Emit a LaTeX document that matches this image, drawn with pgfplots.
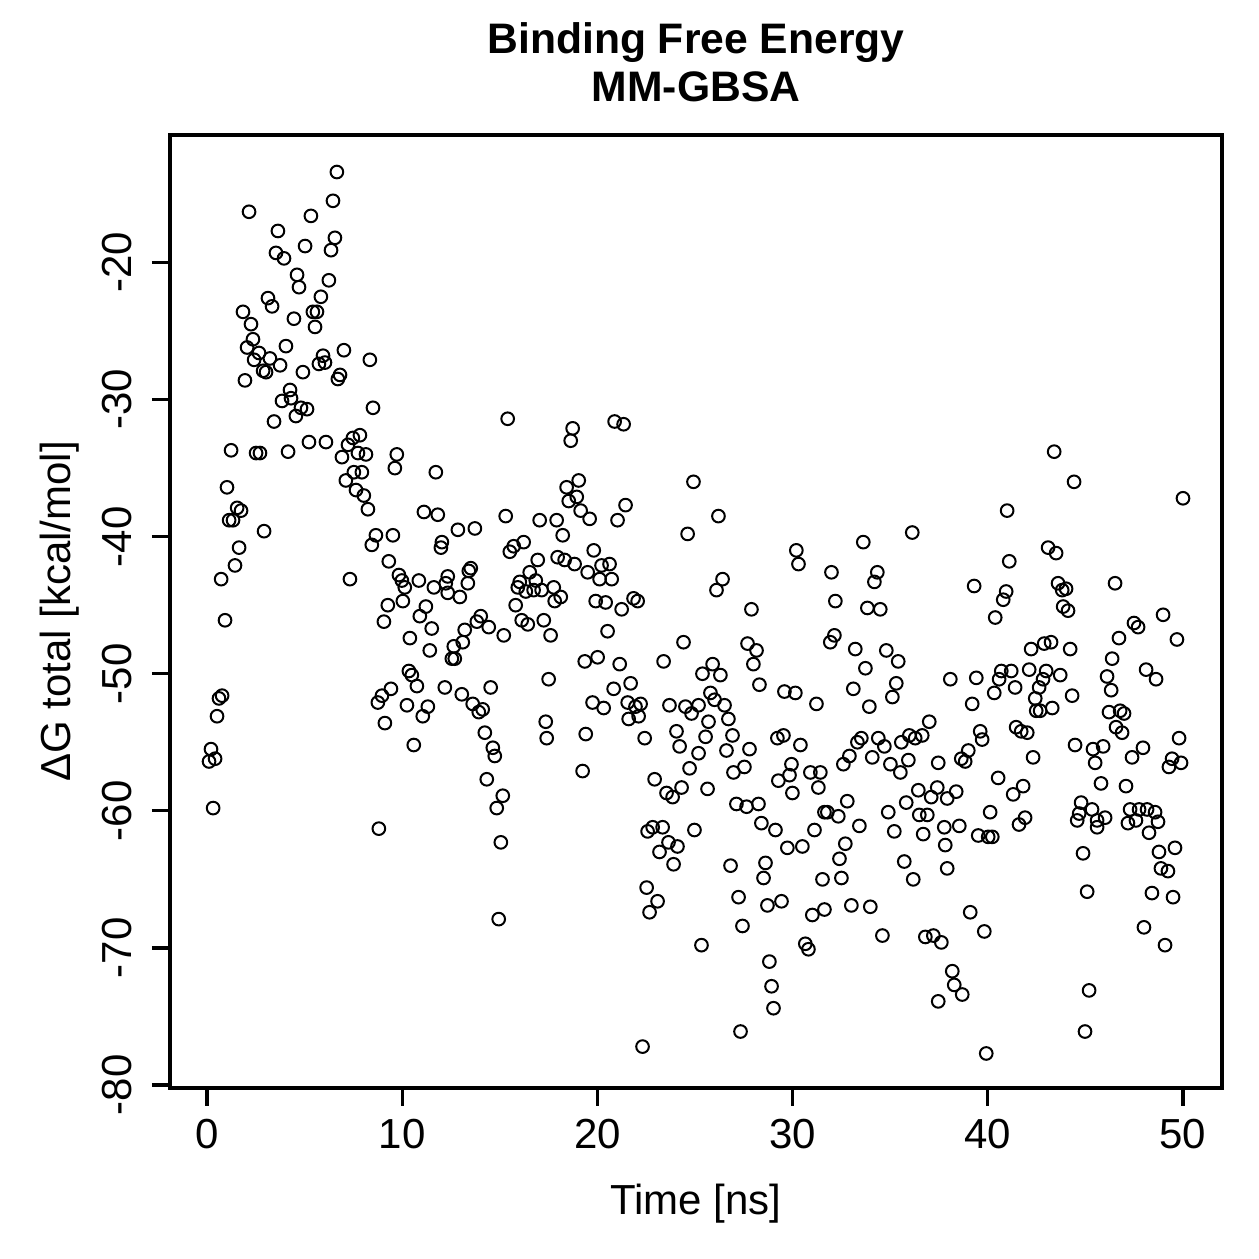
\documentclass[border=0pt]{standalone}
\usepackage{pgfplots}
\pgfplotsset{compat=1.18}
\usepackage{fontspec}
\setmainfont{Liberation Sans}
\pgfplotstableread{
t dG
0.10 -56.4
0.20 -55.5
0.41 -56.2
0.31 -59.8
0.51 -53.1
0.61 -51.8
0.77 -51.6
0.72 -43.1
0.92 -46.1
1.02 -36.4
1.23 -33.7
1.13 -38.8
1.33 -38.8
1.43 -42.1
1.54 -37.9
1.74 -38.1
1.64 -40.8
1.94 -28.6
1.84 -23.6
2.15 -16.3
2.25 -24.5
2.35 -25.6
2.05 -26.2
2.41 -27.1
2.51 -33.9
2.71 -33.9
2.66 -26.6
2.87 -27.9
3.02 -28.0
2.92 -39.6
3.12 -22.6
3.33 -23.2
3.22 -27.0
3.43 -31.6
3.53 -19.3
3.63 -17.7
3.74 -27.5
3.84 -30.1
3.94 -19.7
4.04 -26.1
4.15 -33.8
4.25 -29.3
4.30 -29.9
4.45 -24.1
4.55 -31.2
4.61 -20.9
4.71 -21.8
4.81 -30.6
4.91 -28.0
5.02 -18.8
5.12 -30.7
5.22 -33.1
5.32 -16.6
5.42 -23.6
5.63 -23.6
5.53 -24.7
5.73 -27.4
5.83 -22.5
5.94 -26.8
6.04 -27.3
6.09 -33.1
6.24 -21.3
6.35 -19.1
6.45 -15.5
6.55 -18.2
6.65 -13.4
6.70 -28.5
6.81 -28.2
7.01 -26.4
6.91 -34.2
7.11 -35.9
7.22 -33.3
7.32 -43.1
7.47 -32.8
7.52 -35.3
7.63 -36.6
7.73 -33.9
7.83 -32.6
7.93 -35.3
8.03 -37.0
8.14 -34.0
8.24 -38.0
8.34 -27.1
8.50 -30.6
8.44 -40.6
8.65 -39.9
8.75 -52.1
8.80 -61.3
8.96 -51.6
9.06 -46.2
9.11 -53.6
9.26 -45.0
9.31 -41.8
9.42 -51.1
9.52 -39.9
9.62 -35.0
9.72 -34.0
9.83 -42.8
9.98 -43.2
10.03 -44.7
10.13 -43.7
10.24 -52.3
10.34 -49.8
10.39 -47.4
10.49 -50.1
10.59 -55.2
10.75 -50.9
10.85 -43.2
10.90 -45.8
11.05 -53.1
11.11 -38.2
11.21 -45.1
11.31 -52.4
11.41 -48.3
11.51 -46.7
11.62 -43.7
11.72 -35.3
11.82 -38.4
12.03 -40.4
11.98 -40.8
12.18 -51.0
12.23 -43.4
12.33 -42.9
12.33 -44.1
12.64 -48.0
12.54 -48.9
12.69 -48.9
12.85 -39.5
12.95 -44.4
13.05 -51.5
13.10 -47.7
13.20 -46.8
13.36 -43.4
13.41 -42.5
13.51 -42.3
13.61 -52.2
13.72 -39.4
13.82 -46.2
13.92 -52.8
14.02 -45.8
14.12 -52.6
14.23 -54.3
14.33 -57.7
14.43 -46.6
14.53 -51.0
14.64 -55.4
14.74 -56.0
14.84 -59.8
14.94 -67.9
15.05 -62.3
15.15 -58.9
15.20 -47.2
15.30 -38.5
15.40 -31.4
15.51 -41.1
15.71 -40.7
15.81 -45.0
15.92 -43.7
16.02 -43.3
16.12 -46.1
16.22 -40.4
16.33 -44.0
16.43 -46.4
16.53 -42.6
16.73 -43.9
16.84 -43.2
16.94 -41.7
17.04 -38.8
17.14 -43.9
17.25 -46.1
17.35 -53.5
17.40 -54.7
17.50 -50.4
17.60 -47.2
17.76 -43.7
17.81 -44.7
17.91 -38.8
17.96 -41.5
18.12 -44.4
18.22 -39.9
18.32 -41.7
18.42 -36.4
18.53 -37.4
18.63 -33.0
18.73 -32.1
18.83 -42.0
18.94 -37.1
19.04 -35.9
19.14 -38.1
19.24 -57.1
19.35 -49.1
19.40 -54.4
19.50 -42.6
19.60 -38.7
19.75 -52.1
19.81 -41.0
19.91 -44.7
20.01 -48.8
20.11 -43.1
20.21 -42.1
20.32 -52.5
20.42 -44.8
20.52 -46.9
20.62 -42.0
20.73 -43.1
20.83 -51.1
20.88 -31.6
21.03 -38.8
21.14 -49.3
21.24 -45.3
21.34 -31.8
21.44 -37.7
21.55 -52.1
21.60 -53.3
21.70 -50.7
21.85 -44.5
21.95 -52.4
22.06 -44.7
22.11 -53.1
22.21 -52.2
22.31 -77.2
22.42 -54.7
22.52 -65.6
22.57 -61.5
22.67 -67.4
22.83 -61.2
22.93 -57.7
23.08 -66.6
23.18 -63.0
23.34 -61.2
23.39 -49.1
23.54 -58.7
23.64 -62.3
23.69 -52.3
23.85 -59.0
23.90 -63.9
24.05 -54.2
24.10 -62.6
24.21 -55.3
24.31 -58.3
24.41 -47.7
24.51 -52.4
24.62 -39.8
24.72 -56.9
24.82 -52.9
24.92 -36.0
24.97 -61.4
25.18 -55.8
25.18 -52.3
25.38 -50.0
25.33 -69.8
25.54 -54.6
25.64 -58.4
25.69 -53.5
25.79 -51.4
25.90 -49.3
26.00 -51.9
26.10 -43.9
26.20 -38.5
26.30 -50.1
26.41 -43.1
26.51 -52.3
26.61 -55.6
26.71 -53.3
26.82 -64.0
26.92 -54.5
26.97 -57.2
27.12 -59.5
27.23 -66.3
27.33 -76.1
27.43 -68.4
27.53 -56.8
27.64 -59.7
27.69 -47.8
27.79 -55.5
27.89 -45.3
27.99 -49.3
28.15 -48.3
28.25 -59.5
28.30 -50.8
28.40 -60.9
28.51 -64.9
28.61 -63.8
28.71 -66.9
28.81 -71.0
28.92 -72.8
29.02 -74.4
29.12 -61.4
29.22 -54.7
29.27 -57.8
29.43 -66.6
29.53 -54.5
29.58 -51.3
29.73 -62.7
29.84 -57.4
29.94 -56.6
29.99 -58.7
30.14 -51.4
30.19 -41.0
30.30 -42.0
30.40 -55.2
30.50 -62.6
30.65 -69.7
30.81 -70.1
30.91 -57.2
31.01 -67.6
31.12 -61.4
31.22 -52.2
31.32 -58.3
31.42 -57.2
31.53 -65.0
31.63 -67.2
31.63 -60.1
31.78 -60.1
31.93 -47.7
31.99 -42.6
32.14 -47.2
32.19 -44.7
32.34 -60.4
32.40 -63.5
32.50 -64.9
32.60 -56.6
32.70 -62.4
32.80 -59.3
32.91 -56.0
33.01 -66.9
33.11 -51.1
33.21 -48.2
33.32 -55.0
33.42 -61.1
33.52 -54.7
33.62 -40.4
33.73 -49.6
33.83 -45.2
33.93 -52.4
33.98 -67.0
34.08 -56.1
34.19 -43.3
34.34 -42.6
34.39 -54.7
34.49 -45.3
34.60 -69.1
34.70 -55.3
34.80 -48.3
34.90 -60.1
35.01 -56.6
35.11 -51.7
35.21 -61.5
35.31 -50.7
35.41 -49.1
35.52 -57.2
35.57 -55.0
35.72 -63.7
35.82 -59.4
35.93 -56.3
35.98 -54.5
36.13 -39.7
36.18 -65.0
36.28 -54.7
36.44 -58.5
36.49 -60.3
36.64 -54.5
36.69 -61.7
36.80 -69.2
36.90 -60.3
37.00 -53.5
37.10 -59.0
37.21 -69.1
37.41 -58.3
37.46 -56.5
37.62 -69.6
37.77 -61.2
37.82 -62.5
37.92 -59.1
37.92 -64.2
38.08 -50.4
38.18 -71.7
38.28 -72.7
38.38 -58.6
38.54 -61.1
38.64 -56.2
38.84 -56.4
38.69 -73.4
37.46 -73.9
39.00 -55.6
39.10 -67.4
39.20 -52.2
39.30 -43.6
39.41 -50.3
39.51 -61.8
39.61 -54.2
39.71 -54.8
39.82 -68.8
39.92 -77.7
40.02 -61.9
40.12 -60.1
40.23 -61.9
40.33 -51.4
40.38 -45.9
40.53 -57.6
40.58 -50.4
40.69 -49.8
40.79 -44.6
40.94 -44.0
40.99 -38.1
41.10 -41.8
41.20 -49.8
41.30 -58.8
41.40 -51.0
41.45 -53.9
41.60 -61.0
41.71 -54.2
41.81 -58.2
41.91 -60.5
42.02 -54.3
42.12 -49.7
42.22 -48.2
42.32 -56.1
42.43 -51.8
42.48 -52.7
42.68 -52.7
42.63 -51.0
42.83 -50.4
42.89 -47.8
42.99 -49.8
43.09 -40.8
43.24 -47.7
43.30 -52.5
43.40 -33.8
43.50 -41.2
43.60 -43.4
43.71 -50.1
43.81 -43.9
44.01 -43.8
43.86 -45.1
44.11 -45.4
44.22 -48.2
44.32 -51.6
44.42 -36.0
44.47 -55.2
44.58 -60.7
44.68 -60.2
44.78 -59.4
44.88 -63.1
44.98 -76.1
45.09 -65.9
45.19 -73.1
45.34 -59.9
45.39 -55.5
45.50 -56.5
45.60 -60.7
45.60 -61.2
45.80 -58.0
45.91 -55.3
46.01 -60.5
46.11 -50.2
46.21 -52.8
46.32 -51.2
46.37 -48.9
46.52 -43.4
46.57 -53.9
46.72 -47.4
46.78 -52.7
46.88 -54.3
46.98 -52.9
47.08 -58.2
47.18 -60.9
47.29 -59.9
47.39 -56.1
47.49 -46.3
47.59 -60.7
47.70 -46.6
47.75 -59.9
47.95 -55.4
48.00 -68.5
48.11 -49.7
48.16 -59.9
48.26 -61.6
48.41 -66.0
48.57 -60.1
48.62 -50.4
48.72 -60.8
48.77 -63.0
48.87 -64.2
48.98 -45.7
49.08 -69.8
49.23 -64.4
49.28 -56.8
49.44 -56.2
49.49 -66.3
49.59 -62.7
49.69 -47.5
49.80 -54.7
49.90 -56.5
50.00 -37.2
}\datatable
\begin{document}
\begin{tikzpicture}[font=\fontsize{12.6}{15}\selectfont]
\path[use as bounding box] (-51pt,-51.3pt) rectangle (326.7pt,326.4pt);
\begin{axis}[
  at={(0pt,0pt)}, anchor=south west,
  width=315.6pt, height=285.9pt, scale only axis,
  xmin=-1.9, xmax=52.0, ymin=-80.22, ymax=-10.7,
  axis line style={line width=1pt},
  tick style={line width=1pt, black},
  tick align=outside, major tick length=5.4pt,
  xtick pos=bottom, ytick pos=left,
  xtick={0,10,20,30,40,50},
  xticklabels={0,10,20,30,40,50},
  ytick={-80,-70,-60,-50,-40,-30,-20},
  yticklabels={-80,-70,-60,-50,-40,-30,-20},
  xticklabel style={anchor=base, yshift=-12.9pt, inner sep=0pt},
  yticklabel style={xshift=-6.1pt, rotate=90, anchor=base, inner sep=0pt},
  minor tick num=0,
]
\addplot[only marks, mark=o, mark size=1.9pt, mark options={line width=0.6pt, black}] table[x=t, y=dG] {\datatable};
\end{axis}
\node[anchor=base] at (157.8pt,-37.8pt) {Time [ns]};
\node[rotate=90, anchor=base] at (-30pt,142.95pt) {ΔG total [kcal/mol]};
\node[anchor=base, font=\fontsize{12.8}{15}\selectfont\bfseries] at (157.8pt,310.4pt) {Binding Free Energy};
\node[anchor=base, font=\fontsize{12.8}{15}\selectfont\bfseries] at (157.8pt,295.9pt) {MM-GBSA};
\end{tikzpicture}
\end{document}
